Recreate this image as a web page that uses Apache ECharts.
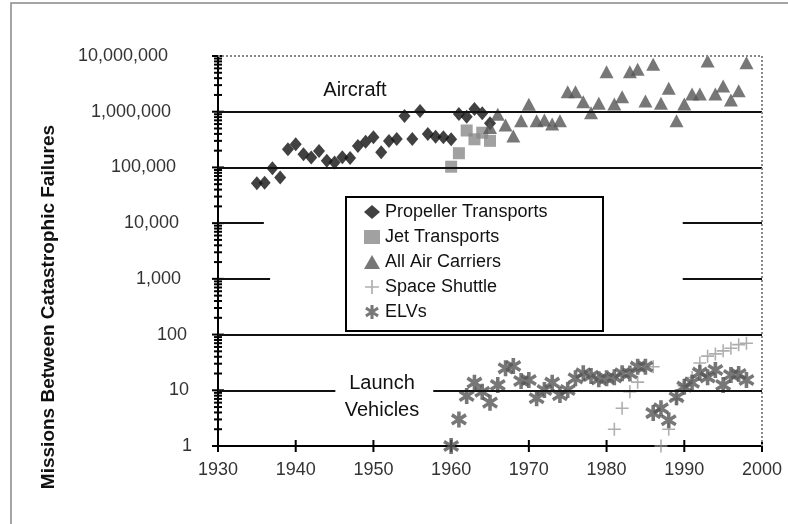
<!DOCTYPE html>
<html><head><meta charset="utf-8">
<script src="https://cdn.jsdelivr.net/npm/echarts@6/dist/echarts.min.js"></script>
<style>html,body{margin:0;padding:0;background:#fff}#c{width:788px;height:524px}</style>
</head><body><div id="c"></div>
<script>
// ---- data ----
const propYears = [1935,1936,1937,1938,1939,1940,1941,1942,1943,1944,1945,1946,1947,1948,1949,1950,1951,1952,1953,1954,1955,1956,1957,1958,1959,1960,1961,1962,1963,1964,1965];
const propValues = [52000,53000,97000,66000,212000,260000,172000,150000,197000,132000,122000,152000,148000,243000,290000,348000,187000,298000,324000,838000,324000,1030000,398000,357000,348000,320000,911000,815000,1120000,938000,620000];
const jetYears = [1960,1961,1962,1963,1964,1965];
const jetValues = [103000,180000,460000,320000,420000,300000];
const airYears = [1965,1966,1967,1968,1969,1970,1971,1972,1973,1974,1975,1976,1977,1978,1979,1980,1981,1982,1983,1984,1985,1986,1987,1988,1989,1990,1991,1992,1993,1994,1995,1996,1997,1998];
const airValues = [520000,900000,578000,367000,690000,1360000,690000,711000,603000,690000,2290000,2290000,1510000,962000,1420000,5240000,1380000,1860000,5240000,5780000,1560000,7100000,1420000,2640000,690000,1380000,2080000,2080000,8150000,2080000,2900000,1620000,2390000,7600000];
const shuttleYears = [1981,1982,1983,1984,1986,1987,1988,1989,1990,1991,1992,1993,1994,1995,1996,1997,1998];
const shuttleValues = [2,4.75,9.4,14,26.5,1,2,7,12,17,31,41,45,51,57,66,70];
const elvYears = [1960,1961,1962,1963,1964,1965,1966,1967,1968,1969,1970,1971,1972,1973,1974,1975,1976,1977,1978,1979,1980,1981,1982,1983,1984,1985,1986,1987,1988,1989,1990,1991,1992,1993,1994,1995,1996,1997,1998];
const elvValues = [1,3,7.9,13.7,9.4,6,12.4,24.8,27.3,14.7,15.3,7.2,10.1,13.7,8.2,10.1,16.4,20.2,18.1,15.7,16.4,17.1,20.2,20,26.5,26.5,3.9,4.75,2.9,7.5,11.6,13.7,20.7,17.1,23.1,12.4,18.8,19.6,15.3];
const seriesNames = ['Propeller Transports','Jet Transports','All Air Carriers','Space Shuttle','ELVs'];
const xTicks = [1930,1940,1950,1960,1970,1980,1990,2000];
const yMajorTicks = [1,10,100,1000,10000,100000,1000000,10000000];
const yMinorMultipliers = [2,3,4,5,6,7,8,9];

const zip = (xs, ys) => xs.map((x, i) => [x, ys[i]]);

const asteriskPath = 'path://M39 0L61 0L61 100L39 100Z M1 31L12 12L99 69L88 88Z M88 12L99 31L12 88L1 69Z';
const plusPath = 'path://M0 44L100 44L100 56L0 56Z M44 0L56 0L56 100L44 100Z';

const yMinorTicks = [];
yMajorTicks.slice(0, -1).forEach(m => yMinorMultipliers.forEach(k => yMinorTicks.push(m * k)));

const font = 'Liberation Sans, Arial, sans-serif';

function seg(x1, x2, y) { return [{coord: [x1, y]}, {coord: [x2, y]}]; }

// per-length right padding, imitating the staggered label alignment
const rich = {};
for (let n = 1; n <= 10; n++) {
  rich['r' + n] = {fontSize: 18, color: '#333', fontFamily: font, padding: [0, Math.round(2.67 * (n - 1)), 0, 0]};
}

const chart = echarts.init(document.getElementById('c'), null, {renderer: 'canvas'});
chart.setOption({
  animation: false,
  backgroundColor: '#fff',
  grid: {left: 218, right: 26, top: 56, bottom: 78},
  xAxis: {
    type: 'value', min: 1930, max: 2000, interval: 10,
    axisLine: {show: true, onZero: false, lineStyle: {color: '#000', width: 2}},
    axisTick: {show: false},
    splitLine: {show: false},
    axisLabel: {fontSize: 18, color: '#333', fontFamily: font, margin: 15, formatter: v => String(v)}
  },
  yAxis: {
    type: 'log', logBase: 10, min: 1, max: 10000000, splitNumber: 7,
    axisLine: {show: true, lineStyle: {color: '#000', width: 2}},
    axisTick: {show: false},
    splitLine: {show: false},
    axisLabel: {fontSize: 18, color: '#333', fontFamily: font, margin: 26, rich: rich,
      formatter: v => { const s = Number(v).toLocaleString('en-US'); return '{r' + s.length + '|' + s + '}'; }}
  },
  legend: {
    orient: 'vertical', left: 364, top: 203, padding: 0, itemWidth: 16, itemHeight: 14, itemGap: 7,
    data: seriesNames, z: 10,
    textStyle: {fontSize: 18, color: '#111', fontFamily: font, lineHeight: 18}
  },
  graphic: [
    {type: 'rect', shape: {x: 11, y: 3, width: 800, height: 560}, style: {fill: 'none', stroke: '#888', lineWidth: 1.5}, z: 0, silent: true},
    {type: 'rect', shape: {x: 346, y: 197, width: 257, height: 134}, style: {fill: '#fff', stroke: '#000', lineWidth: 2}, z: 5, silent: true},
    {type: 'text', x: 355, y: 90, style: {text: 'Aircraft', font: '20px ' + font, fill: '#111', align: 'center', verticalAlign: 'middle'}, z: 6},
    {type: 'text', x: 382, y: 397, style: {text: 'Launch\nVehicles', font: '20px ' + font, fill: '#111', align: 'center', verticalAlign: 'middle', lineHeight: 27}, z: 6},
    {type: 'text', x: 49, y: 307, rotation: Math.PI / 2, style: {text: 'Missions Between Catastrophic Failures', font: 'bold 19px ' + font, fill: '#111', align: 'center', verticalAlign: 'middle'}, z: 6}
  ],
  series: [
    {
      name: 'frame', type: 'scatter', data: [], silent: true, z: 1,
      markLine: {
        silent: true, symbol: 'none', label: {show: false}, animation: false,
        lineStyle: {color: '#111', width: 2, type: 'solid'},
        data: [
          seg(1930, 2000, 1000000), seg(1930, 2000, 100000), seg(1930, 2000, 100),
          seg(1930, 1935.9, 10000), seg(1989.8, 2000, 10000),
          seg(1930, 1936.7, 1000), seg(1989.8, 2000, 1000),
          seg(1930, 1945.1, 10), seg(1957.7, 2000, 10),
          [{coord: [1930, 10000000], lineStyle: {color: '#888', width: 2, type: 'dotted'}}, {coord: [2000, 10000000]}],
          [{coord: [2000, 1], lineStyle: {color: '#888', width: 2, type: 'dotted'}}, {coord: [2000, 10000000]}]
        ]
      }
    },
    {
      name: 'ticks', type: 'custom', silent: true, z: 3, clip: false,
      data: yMajorTicks.map(v => [0, v, 6]).concat(yMinorTicks.map(v => [0, v, 4])).concat(xTicks.map(v => [1, v, 6])),
      renderItem: (params, api) => {
        const kind = api.value(0), v = api.value(1), h = api.value(2);
        let p, shape;
        if (kind === 0) { p = api.coord([1930, v]); shape = {x1: p[0] - h, y1: p[1], x2: p[0] + h, y2: p[1]}; }
        else { p = api.coord([v, 1]); shape = {x1: p[0], y1: p[1] - h, x2: p[0], y2: p[1] + h}; }
        return {type: 'line', shape: shape, style: {stroke: '#000', lineWidth: 2}};
      }
    },
    {name: seriesNames[0], type: 'scatter', data: zip(propYears, propValues), symbol: 'diamond', symbolSize: [12, 14], itemStyle: {color: '#111'}, z: 4},
    {name: seriesNames[1], type: 'scatter', data: zip(jetYears, jetValues), symbol: 'rect', symbolSize: 12, itemStyle: {color: '#8a8a8a'}, z: 4},
    {name: seriesNames[2], type: 'scatter', data: zip(airYears, airValues), symbol: 'triangle', symbolSize: [14, 13], itemStyle: {color: '#555'}, z: 4},
    {name: seriesNames[3], type: 'scatter', data: zip(shuttleYears, shuttleValues), symbol: plusPath, symbolSize: 13, itemStyle: {color: '#9a9a9a'}, z: 4},
    {name: seriesNames[4], type: 'scatter', data: zip(elvYears, elvValues), symbol: asteriskPath, symbolSize: 16, itemStyle: {color: '#555'}, z: 4}
  ]
});
</script></body></html>
